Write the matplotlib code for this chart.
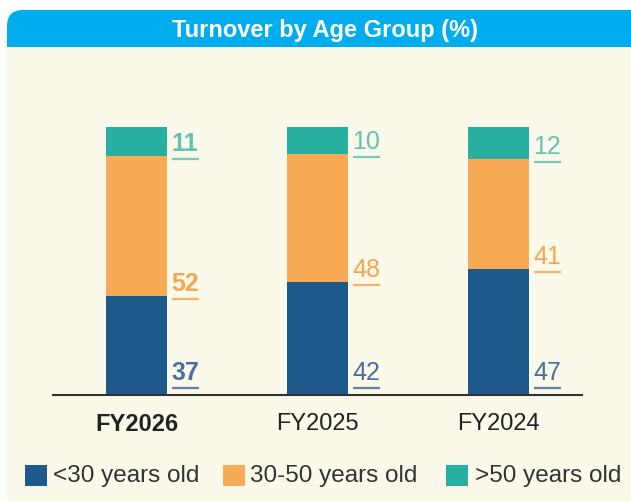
import matplotlib
matplotlib.use("Agg")
import matplotlib.pyplot as plt
from matplotlib.patches import FancyBboxPatch, Rectangle
import numpy as np

plt.rcParams['font.family'] = ['Liberation Sans', 'DejaVu Sans']

title = "Turnover by Age Group (%)"
years = ["FY2026", "FY2025", "FY2024"]
series_names = ["<30 years old", "30-50 years old", ">50 years old"]
under30 = [37, 42, 47]
mid = [52, 48, 41]
over50 = [11, 10, 12]

bar_colors = ["#1f5a8c", "#f9aa55", "#27b0a0"]
label_colors = ["#4a6ea0", "#f6a64f", "#62c2b4"]
cream = "#fbf9e9"
header = "#00aeef"

W, H = 631, 502
fig = plt.figure(figsize=(W / 100, H / 100), dpi=100)
fig.patch.set_facecolor("white")

# background layer in pixel coords
bg = fig.add_axes([0, 0, 1, 1])
bg.set_xlim(0, W)
bg.set_ylim(H, 0)
bg.axis("off")
panel = FancyBboxPatch((7, 11), 660, 520, boxstyle="round,pad=0,rounding_size=16",
                       facecolor=header, edgecolor="none")
bg.add_patch(panel)
bg.add_patch(Rectangle((7, 48), 660, 500, facecolor=cream, edgecolor="none"))
bg.text(325, 30, title, color="white", fontsize=17, fontweight="bold",
        ha="center", va="center")

# main chart axes
ax_left, ax_right = 53, 582
base_y, top_y = 396, 60
ax = fig.add_axes([ax_left / W, (H - base_y) / H, (ax_right - ax_left) / W, (base_y - top_y) / H])
ax.patch.set_alpha(0)
spacing = 181.0
x0 = 136.5
xmin = -(x0 - ax_left) / spacing
xmax = xmin + (ax_right - ax_left) / spacing
ax.set_xlim(xmin, xmax)
px_per_unit = 268 / 100.0
ax.set_ylim(0, (base_y - top_y) / px_per_unit)
for s in ["top", "right", "left"]:
    ax.spines[s].set_visible(False)
ax.spines["bottom"].set_color("#333333")
ax.spines["bottom"].set_linewidth(1.5)
ax.set_yticks([])

x = np.arange(len(years))
width = 61 / spacing
data = [under30, mid, over50]
bottoms = np.zeros(len(years))
for si, vals in enumerate(data):
    ax.bar(x, vals, width, bottom=bottoms, color=bar_colors[si], linewidth=0, zorder=2)
    for i, v in enumerate(vals):
        bot = bottoms[i]
        uy = bot + (7 / px_per_unit if si == 0 else -3 / px_per_unit)
        lx0 = x[i] + width / 2 + 5 / spacing
        lx1 = lx0 + 27 / spacing
        ax.plot([lx0, lx1], [uy, uy], color=label_colors[si], lw=1.6, alpha=0.85,
                solid_capstyle="butt", clip_on=False)
        ax.text(lx0 - 0.5 / spacing, uy + 4 / px_per_unit, str(v), color=label_colors[si],
                fontsize=18, fontweight="bold" if i == 0 else "normal",
                ha="left", va="bottom")
    bottoms = bottoms + np.array(vals)

ax.set_xticks(x)
ax.set_xticklabels(years, fontsize=17, color="#222222")
ax.get_xticklabels()[0].set_fontweight("bold")
ax.tick_params(axis="x", length=0, pad=12)

# legend
leg_items = [(25, 53), (223, 250), (446, 475)]
for (sx, tx), name, c in zip(leg_items, series_names, bar_colors):
    bg.add_patch(Rectangle((sx, 466), 22, 21, facecolor=c, edgecolor="none"))
    bg.text(tx, 476, name, fontsize=17.5, color="#333333", ha="left", va="center")

fig.savefig("out.png", dpi=100, facecolor=fig.get_facecolor())
